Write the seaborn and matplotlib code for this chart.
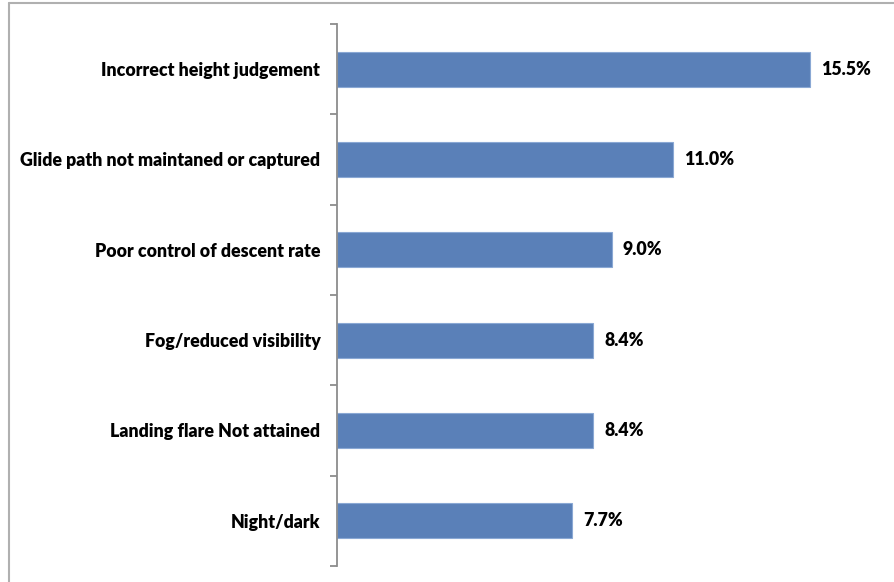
import matplotlib
matplotlib.use("Agg")
import matplotlib.pyplot as plt
from matplotlib.lines import Line2D
from matplotlib.ticker import FixedLocator
import seaborn as sns
import pandas as pd

categories = [
    "Incorrect height judgement",
    "Glide path not maintaned or captured",
    "Poor control of descent rate",
    "Fog/reduced visibility",
    "Landing flare Not attained",
    "Night/dark",
]
values = [15.5, 11.0, 9.0, 8.4, 8.4, 7.7]
value_labels = ["15.5%", "11.0%", "9.0%", "8.4%", "8.4%", "7.7%"]

df = pd.DataFrame({"factor": categories, "pct": values})

sns.set_theme(style="white")
plt.rcParams["font.family"] = ["Lato", "DejaVu Sans"]

fig = plt.figure(figsize=(8.94, 5.82), dpi=100)
ax = fig.add_axes([337 / 894, 1 - 566 / 582, (886 - 337) / 894, (566 - 24) / 582])

sns.barplot(data=df, x="pct", y="factor", orient="h", color="#5a80b8", saturation=1,
            width=0.39, edgecolor="#8aa8d4", linewidth=0.8, ax=ax)

ax.set_xlim(0, 18)
ax.set_ylim(len(categories) - 0.5, -0.5)
ax.set_xlabel("")
ax.set_ylabel("")
ax.set_xticks([])

for spine in ["top", "right", "bottom"]:
    ax.spines[spine].set_visible(False)
ax.spines["left"].set_color("#8c8c8c")
ax.spines["left"].set_linewidth(1.3)

ax.tick_params(axis="y", which="major", length=0, pad=12)
ax.yaxis.set_minor_locator(FixedLocator([i - 0.5 for i in range(len(categories) + 1)]))
ax.tick_params(axis="y", which="minor", left=True, length=5, width=1.3, color="#8c8c8c")
for lbl in ax.get_yticklabels():
    lbl.set_fontweight("heavy")
    lbl.set_fontsize(12.8)
    lbl.set_color("black")

for i, (v, t) in enumerate(zip(values, value_labels)):
    ax.annotate(t, xy=(v, i), xytext=(8, 0), textcoords="offset points",
                va="center", ha="left", fontsize=12.8, fontweight="heavy", color="black")

# outer chart frame
fig.add_artist(Line2D([9 / 894, 1.0], [1 - 3 / 582, 1 - 3 / 582], transform=fig.transFigure,
                      color="#b0b0b0", linewidth=1.5))
fig.add_artist(Line2D([9 / 894, 9 / 894], [0.0, 1 - 3 / 582], transform=fig.transFigure,
                      color="#b0b0b0", linewidth=1.5))

fig.savefig("out.png", dpi=100)
